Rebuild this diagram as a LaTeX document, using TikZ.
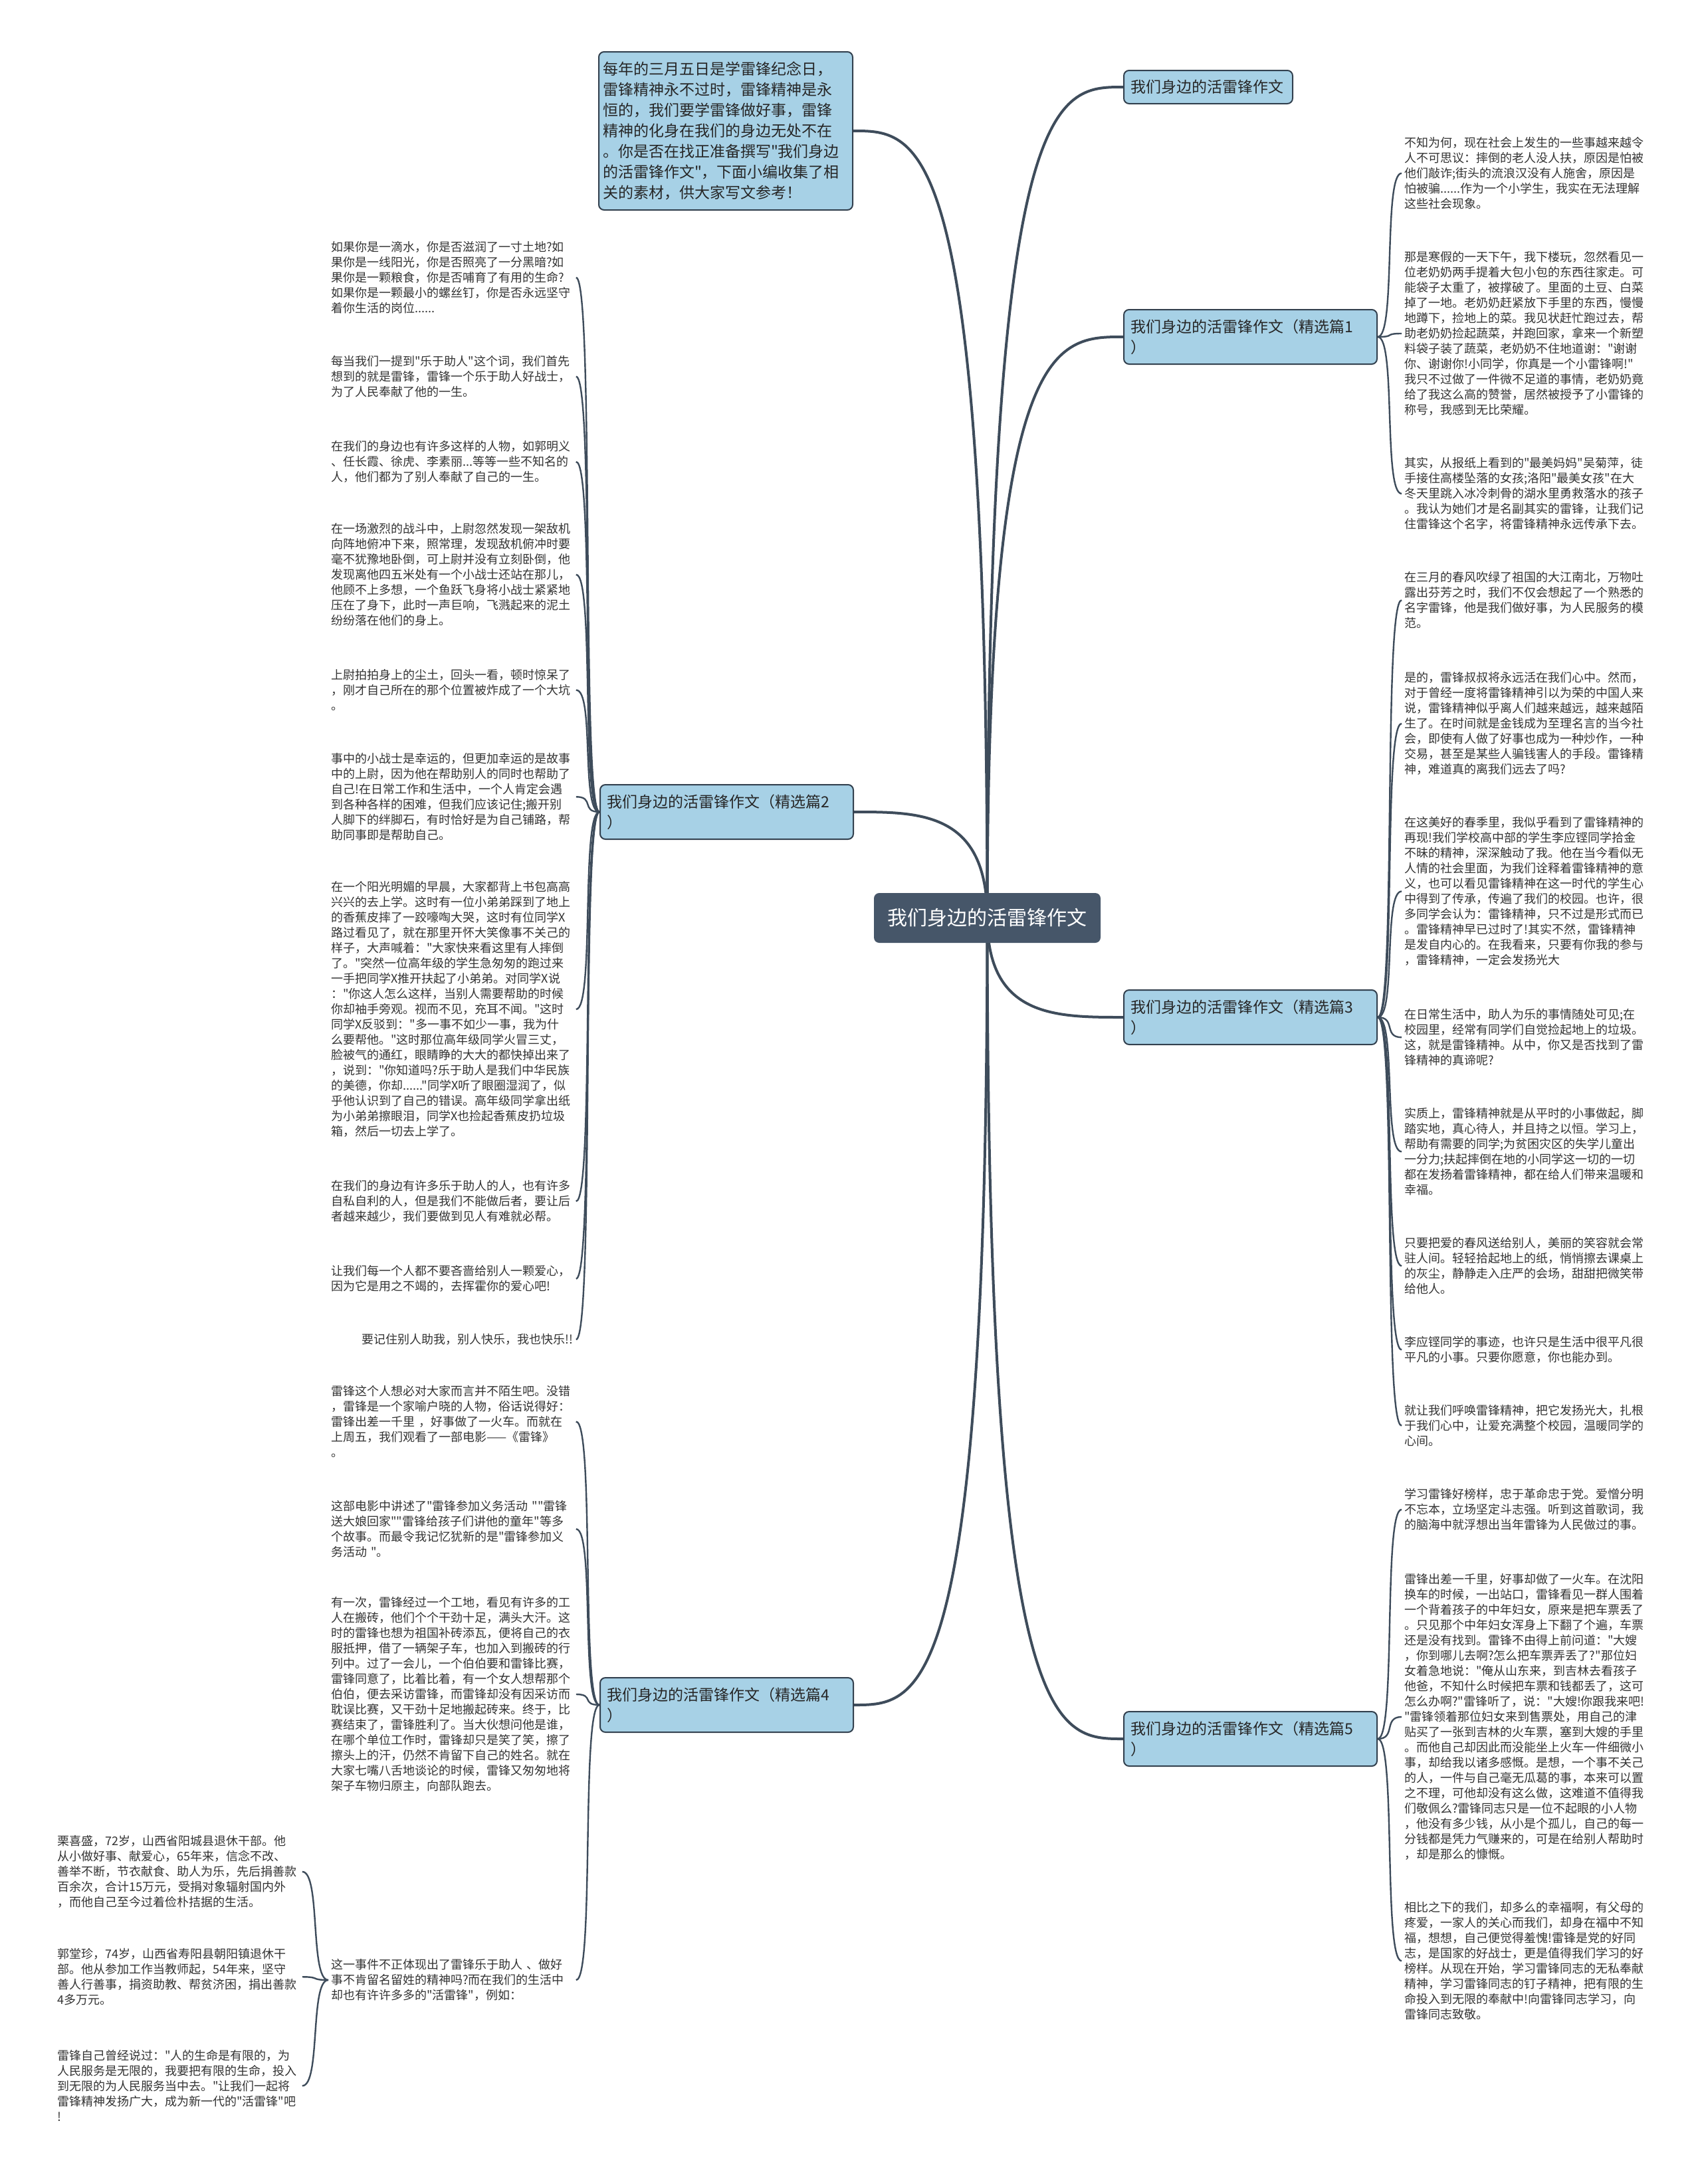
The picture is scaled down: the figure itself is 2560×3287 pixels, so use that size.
\documentclass[tikz,border=0pt]{standalone}
\usepackage{fontspec}
\newfontfamily\cjk{Noto Sans CJK SC}
\usetikzlibrary{backgrounds,calc}
\definecolor{lineC}{HTML}{3E4C5B}
\definecolor{rootC}{HTML}{465669}
\definecolor{branchC}{HTML}{A7D1E6}
\definecolor{borderC}{HTML}{33414F}
\definecolor{textC}{HTML}{333333}
\tikzset{
  leaf/.style={font=\cjk\fontsize{9}{11.5}\selectfont, text=textC, align=left, text width=182pt, inner xsep=2pt, inner ysep=0pt, anchor=north west},
  leafr/.style={leaf, align=right},
  branch/.style={font=\cjk\fontsize{11.5}{15.5}\selectfont, text=black!85, fill=branchC, draw=borderC, line width=1pt, rounded corners=4pt, align=left, anchor=north west, inner xsep=5pt, text width=180.5pt, minimum height=41pt},
  rootnode/.style={font=\cjk\fontsize{15}{18}\selectfont, text=white, fill=rootC, rounded corners=4pt, minimum width=170.5pt, minimum height=37.5pt, inner sep=0pt, anchor=center},
  mainlink/.style={draw=lineC, line width=2pt, to path={.. controls (\tikztostart |- \tikztotarget) and ($(\tikztostart |- \tikztotarget)!0.5!(\tikztotarget)$) .. (\tikztotarget)}},
  rlink/.style={draw=lineC, line width=1.2pt, to path={.. controls +(28,0) and +(-28,0) .. (\tikztotarget)}},
  llink/.style={draw=lineC, line width=1.2pt, to path={.. controls +(-28,0) and +(28,0) .. (\tikztotarget)}}
}
\begin{document}
\begin{tikzpicture}[x=0.5pt,y=-0.5pt]
\useasboundingbox (0,0) rectangle (2560,3287);
% root
\node[rootnode] (root) at (1485.5,1381.5) {我们身边的活雷锋作文};
% intro
\node[branch, text width=185pt, inner xsep=3pt, minimum height=119pt] (intro) at (900,77) {每年的三月五日是学雷锋纪念日，\\雷锋精神永不过时，雷锋精神是永\\恒的，我们要学雷锋做好事，雷锋\\精神的化身在我们的身边无处不在\\。你是否在找正准备撰写"我们身边\\的活雷锋作文"，下面小编收集了相\\关的素材，供大家写文参考！};
% branches
\node[branch, text width=117pt, minimum height=25pt] (B0) at (1690,105) {我们身边的活雷锋作文};
\node[branch] (B1) at (1690,465) {我们身边的活雷锋作文（精选篇1\\）};
\node[branch] (B3) at (1690,1489) {我们身边的活雷锋作文（精选篇3\\）};
\node[branch] (B5) at (1690,2575) {我们身边的活雷锋作文（精选篇5\\）};
\node[branch] (B2) at (902,1180) {我们身边的活雷锋作文（精选篇2\\）};
\node[branch] (B4) at (902,2524) {我们身边的活雷锋作文（精选篇4\\）};
% right leaves, branch 1
\node[leaf] (L1a) at (2109,206) {不知为何，现在社会上发生的一些事越来越令\\人不可思议：摔倒的老人没人扶，原因是怕被\\他们敲诈;街头的流浪汉没有人施舍，原因是\\怕被骗......作为一个小学生，我实在无法理解\\这些社会现象。};
\node[leaf] (L1b) at (2109,378) {那是寒假的一天下午，我下楼玩，忽然看见一\\位老奶奶两手提着大包小包的东西往家走。可\\能袋子太重了，被撑破了。里面的土豆、白菜\\掉了一地。老奶奶赶紧放下手里的东西，慢慢\\地蹲下，捡地上的菜。我见状赶忙跑过去，帮\\助老奶奶捡起蔬菜，并跑回家，拿来一个新塑\\料袋子装了蔬菜，老奶奶不住地道谢："谢谢\\你、谢谢你!小同学，你真是一个小雷锋啊!"\\我只不过做了一件微不足道的事情，老奶奶竟\\给了我这么高的赞誉，居然被授予了小雷锋的\\称号，我感到无比荣耀。};
\node[leaf] (L1c) at (2109,688) {其实，从报纸上看到的"最美妈妈"吴菊萍，徒\\手接住高楼坠落的女孩;洛阳"最美女孩"在大\\冬天里跳入冰冷刺骨的湖水里勇救落水的孩子\\。我认为她们才是名副其实的雷锋，让我们记\\住雷锋这个名字，将雷锋精神永远传承下去。};
% branch 3
\node[leaf] (L3a) at (2109,860) {在三月的春风吹绿了祖国的大江南北，万物吐\\露出芬芳之时，我们不仅会想起了一个熟悉的\\名字雷锋，他是我们做好事，为人民服务的模\\范。};
\node[leaf] (L3b) at (2109,1011) {是的，雷锋叔叔将永远活在我们心中。然而，\\对于曾经一度将雷锋精神引以为荣的中国人来\\说，雷锋精神似乎离人们越来越远，越来越陌\\生了。在时间就是金钱成为至理名言的当今社\\会，即使有人做了好事也成为一种炒作，一种\\交易，甚至是某些人骗钱害人的手段。雷锋精\\神，难道真的离我们远去了吗?};
\node[leaf] (L3c) at (2109,1229) {在这美好的春季里，我似乎看到了雷锋精神的\\再现!我们学校高中部的学生李应铿同学拾金\\不昧的精神，深深触动了我。他在当今看似无\\人情的社会里面，为我们诠释着雷锋精神的意\\义，也可以看见雷锋精神在这一时代的学生心\\中得到了传承，传遍了我们的校园。也许，很\\多同学会认为：雷锋精神，只不过是形式而已\\。雷锋精神早已过时了!其实不然，雷锋精神\\是发自内心的。在我看来，只要有你我的参与\\，雷锋精神，一定会发扬光大};
\node[leaf] (L3d) at (2109,1518) {在日常生活中，助人为乐的事情随处可见;在\\校园里，经常有同学们自觉捡起地上的垃圾。\\这，就是雷锋精神。从中，你又是否找到了雷\\锋精神的真谛呢?};
\node[leaf] (L3e) at (2109,1667) {实质上，雷锋精神就是从平时的小事做起，脚\\踏实地，真心待人，并且持之以恒。学习上，\\帮助有需要的同学;为贫困灾区的失学儿童出\\一分力;扶起摔倒在地的小同学这一切的一切\\都在发扬着雷锋精神，都在给人们带来温暖和\\幸福。};
\node[leaf] (L3f) at (2109,1862) {只要把爱的春风送给别人，美丽的笑容就会常\\驻人间。轻轻拾起地上的纸，悄悄擦去课桌上\\的灰尘，静静走入庄严的会场，甜甜把微笑带\\给他人。};
\node[leaf] (L3g) at (2109,2011) {李应铿同学的事迹，也许只是生活中很平凡很\\平凡的小事。只要你愿意，你也能办到。};
\node[leaf] (L3h) at (2109,2114) {就让我们呼唤雷锋精神，把它发扬光大，扎根\\于我们心中，让爱充满整个校园，温暖同学的\\心间。};
% branch 5
\node[leaf] (L5a) at (2109,2240) {学习雷锋好榜样，忠于革命忠于党。爱憎分明\\不忘本，立场坚定斗志强。听到这首歌词，我\\的脑海中就浮想出当年雷锋为人民做过的事。};
\node[leaf] (L5b) at (2109,2368) {雷锋出差一千里，好事却做了一火车。在沈阳\\换车的时候，一出站口，雷锋看见一群人围着\\一个背着孩子的中年妇女，原来是把车票丢了\\。只见那个中年妇女浑身上下翻了个遍，车票\\还是没有找到。雷锋不由得上前问道："大嫂\\，你到哪儿去啊?怎么把车票弄丢了?"那位妇\\女着急地说："俺从山东来，到吉林去看孩子\\他爸，不知什么时候把车票和钱都丢了，这可\\怎么办啊?"雷锋听了，说："大嫂!你跟我来吧!\\"雷锋领着那位妇女来到售票处，用自己的津\\贴买了一张到吉林的火车票，塞到大嫂的手里\\。而他自己却因此而没能坐上火车一件细微小\\事，却给我以诸多感慨。是想，一个事不关己\\的人，一件与自己毫无瓜葛的事，本来可以置\\之不理，可他却没有这么做，这难道不值得我\\们敬佩么?雷锋同志只是一位不起眼的小人物\\，他没有多少钱，从小是个孤儿，自己的每一\\分钱都是凭力气赚来的，可是在给别人帮助时\\，却是那么的慷慨。};
\node[leaf] (L5c) at (2109,2862) {相比之下的我们，却多么的幸福啊，有父母的\\疼爱，一家人的关心而我们，却身在福中不知\\福，想想，自己便觉得羞愧!雷锋是党的好同\\志，是国家的好战士，更是值得我们学习的好\\榜样。从现在开始，学习雷锋同志的无私奉献\\精神，学习雷锋同志的钉子精神，把有限的生\\命投入到无限的奉献中!向雷锋同志学习，向\\雷锋同志致敬。};
% left leaves, branch 2
\node[leaf] (L2a) at (494,363) {如果你是一滴水，你是否滋润了一寸土地?如\\果你是一线阳光，你是否照亮了一分黑暗?如\\果你是一颗粮食，你是否哺育了有用的生命?\\如果你是一颗最小的螺丝钉，你是否永远坚守\\着你生活的岗位......};
\node[leaf] (L2b) at (494,535) {每当我们一提到"乐于助人"这个词，我们首先\\想到的就是雷锋，雷锋一个乐于助人好战士，\\为了人民奉献了他的一生。};
\node[leaf] (L2c) at (494,663) {在我们的身边也有许多这样的人物，如郭明义\\、任长霞、徐虎、李素丽...等等一些不知名的\\人，他们都为了别人奉献了自己的一生。};
\node[leaf] (L2d) at (494,787) {在一场激烈的战斗中，上尉忽然发现一架敌机\\向阵地俯冲下来，照常理，发现敌机俯冲时要\\毫不犹豫地卧倒，可上尉并没有立刻卧倒，他\\发现离他四五米处有一个小战士还站在那儿，\\他顾不上多想，一个鱼跃飞身将小战士紧紧地\\压在了身下，此时一声巨响，飞溅起来的泥土\\纷纷落在他们的身上。};
\node[leaf] (L2e) at (494,1007) {上尉拍拍身上的尘土，回头一看，顿时惊呆了\\，刚才自己所在的那个位置被炸成了一个大坑\\。};
\node[leaf] (L2f) at (494,1133) {事中的小战士是幸运的，但更加幸运的是故事\\中的上尉，因为他在帮助别人的同时也帮助了\\自己!在日常工作和生活中，一个人肯定会遇\\到各种各样的困难，但我们应该记住;搬开别\\人脚下的绊脚石，有时恰好是为自己铺路，帮\\助同事即是帮助自己。};
\node[leaf] (L2g) at (494,1326) {在一个阳光明媚的早晨，大家都背上书包高高\\兴兴的去上学。这时有一位小弟弟踩到了地上\\的香蕉皮摔了一跤嚎啕大哭，这时有位同学X\\路过看见了，就在那里开怀大笑像事不关己的\\样子，大声喊着："大家快来看这里有人摔倒\\了。"突然一位高年级的学生急匆匆的跑过来\\一手把同学X推开扶起了小弟弟。对同学X说\\："你这人怎么这样，当别人需要帮助的时候\\你却袖手旁观。视而不见，充耳不闻。"这时\\同学X反驳到："多一事不如少一事，我为什\\么要帮他。"这时那位高年级同学火冒三丈，\\脸被气的通红，眼睛睁的大大的都快掉出来了\\，说到："你知道吗?乐于助人是我们中华民族\\的美德，你却......"同学X听了眼圈湿润了，似\\乎他认识到了自己的错误。高年级同学拿出纸\\为小弟弟擦眼泪，同学X也捡起香蕉皮扔垃圾\\箱，然后一切去上学了。};
\node[leaf] (L2h) at (494,1776) {在我们的身边有许多乐于助人的人，也有许多\\自私自利的人，但是我们不能做后者，要让后\\者越来越少，我们要做到见人有难就必帮。};
\node[leaf] (L2i) at (494,1904) {让我们每一个人都不要吝啬给别人一颗爱心，\\因为它是用之不竭的，去挥霍你的爱心吧!};
\node[leafr] (L2j) at (494,2007) {要记住别人助我，别人快乐，我也快乐!!};
% branch 4
\node[leaf] (L4a) at (494,2085) {雷锋这个人想必对大家而言并不陌生吧。没错\\，雷锋是一个家喻户晓的人物，俗话说得好：\\雷锋出差一千里 ，好事做了一火车。而就在\\上周五，我们观看了一部电影——《雷锋》\\。};
\node[leaf] (L4b) at (494,2258) {这部电影中讲述了"雷锋参加义务活动 ""雷锋\\送大娘回家""雷锋给孩子们讲他的童年"等多\\个故事。而最令我记忆犹新的是"雷锋参加义\\务活动 "。};
\node[leaf] (L4c) at (494,2403) {有一次，雷锋经过一个工地，看见有许多的工\\人在搬砖，他们个个干劲十足，满头大汗。这\\时的雷锋也想为祖国补砖添瓦，便将自己的衣\\服抵押，借了一辆架子车，也加入到搬砖的行\\列中。过了一会儿，一个伯伯要和雷锋比赛，\\雷锋同意了，比着比着，有一个女人想帮那个\\伯伯，便去采访雷锋，而雷锋却没有因采访而\\耽误比赛，又干劲十足地搬起砖来。终于，比\\赛结束了，雷锋胜利了。当大伙想问他是谁，\\在哪个单位工作时，雷锋却只是笑了笑，擦了\\擦头上的汗，仍然不肯留下自己的姓名。就在\\大家七嘴八舌地谈论的时候，雷锋又匆匆地将\\架子车物归原主，向部队跑去。};
\node[leaf] (L4d) at (494,2948) {这一事件不正体现出了雷锋乐于助人 、做好\\事不肯留名留姓的精神吗?而在我们的生活中\\却也有许许多多的"活雷锋"，例如：};
% sub leaves
\node[leaf] (LLa) at (82,2762) {栗喜盛，72岁，山西省阳城县退休干部。他\\从小做好事、献爱心，65年来，信念不改、\\善举不断，节衣献食、助人为乐，先后捐善款\\百余次，合计15万元，受捐对象辐射国内外\\，而他自己至今过着俭朴拮据的生活。};
\node[leaf] (LLb) at (82,2932) {郭堂珍，74岁，山西省寿阳县朝阳镇退休干\\部。他从参加工作当教师起，54年来，坚守\\善人行善事，捐资助教、帮贫济困，捐出善款\\4多万元。};
\node[leaf] (LLc) at (82,3085) {雷锋自己曾经说过："人的生命是有限的，为\\人民服务是无限的，我要把有限的生命，投入\\到无限的为人民服务当中去。"让我们一起将\\雷锋精神发扬广大，成为新一代的"活雷锋"吧\\!};
% connectors
\begin{scope}[on background layer]
\fill[white] (0,0) rectangle (2560,3287);
\draw[mainlink] (root.center) to (B0.west);
\draw[mainlink] (root.center) to (B1.west);
\draw[mainlink] (root.center) to (B3.west);
\draw[mainlink] (root.center) to (B5.west);
\draw[mainlink] (root.center) to (intro.east);
\draw[mainlink] (root.center) to (B2.east);
\draw[mainlink] (root.center) to (B4.east);
\foreach \t in {L1a,L1b,L1c} {\draw[rlink] (B1.east) to (\t.west);}
\foreach \t in {L3a,L3b,L3c,L3d,L3e,L3f,L3g,L3h} {\draw[rlink] (B3.east) to (\t.west);}
\foreach \t in {L5a,L5b,L5c} {\draw[rlink] (B5.east) to (\t.west);}
\foreach \t in {L2a,L2b,L2c,L2d,L2e,L2f,L2g,L2h,L2i,L2j} {\draw[llink] (B2.west) to (\t.east);}
\foreach \t in {L4a,L4b,L4c,L4d} {\draw[llink] (B4.west) to (\t.east);}
\foreach \t in {LLa,LLb,LLc} {\draw[llink] (L4d.west) to (\t.east);}
\end{scope}
\end{tikzpicture}
\end{document}
